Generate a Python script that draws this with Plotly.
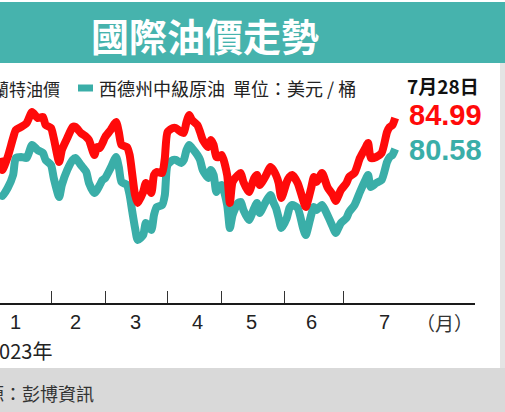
import plotly.graph_objects as go

# ---------------- data ----------------
dates = [
    "2023-01-05", "2023-01-06", "2023-01-10", "2023-01-12", "2023-01-13", "2023-01-17", "2023-01-19",
    "2023-01-23", "2023-01-25", "2023-01-27", "2023-01-30", "2023-02-01", "2023-02-02", "2023-02-06",
    "2023-02-07", "2023-02-09", "2023-02-13", "2023-02-14", "2023-02-16", "2023-02-20", "2023-02-21",
    "2023-02-23", "2023-02-24", "2023-02-27", "2023-02-28", "2023-03-01", "2023-03-03", "2023-03-07",
    "2023-03-08", "2023-03-09", "2023-03-13", "2023-03-14", "2023-03-15", "2023-03-16", "2023-03-17",
    "2023-03-21", "2023-03-22", "2023-03-24", "2023-03-27", "2023-03-28", "2023-03-30", "2023-03-31",
    "2023-04-03", "2023-04-05", "2023-04-06", "2023-04-10", "2023-04-11", "2023-04-12", "2023-04-13",
    "2023-04-14", "2023-04-18", "2023-04-19", "2023-04-20", "2023-04-24", "2023-04-25", "2023-04-26",
    "2023-04-27", "2023-04-28", "2023-05-01", "2023-05-03", "2023-05-04", "2023-05-05", "2023-05-09",
    "2023-05-10", "2023-05-11", "2023-05-15", "2023-05-17", "2023-05-18", "2023-05-19", "2023-05-23",
    "2023-05-25", "2023-05-26", "2023-05-29", "2023-05-30", "2023-05-31", "2023-06-02", "2023-06-05",
    "2023-06-06", "2023-06-08", "2023-06-12", "2023-06-13", "2023-06-15", "2023-06-16", "2023-06-19",
    "2023-06-21", "2023-06-23", "2023-06-27", "2023-06-28", "2023-06-30", "2023-07-04", "2023-07-05",
    "2023-07-07", "2023-07-11", "2023-07-13", "2023-07-14", "2023-07-17", "2023-07-19", "2023-07-21",
    "2023-07-25", "2023-07-26", "2023-07-27", "2023-07-28",
]

brent = [
    79.30, 77.59, 79.44, 82.14, 83.28, 83.71, 84.28,
    85.84, 84.99, 85.13, 83.99, 83.57, 82.14, 78.73,
    80.44, 82.14, 83.71, 83.71, 82.86, 82.29, 81.86,
    79.73, 80.86, 80.72, 81.43, 82.29, 83.28, 84.42,
    83.00, 81.15, 80.86, 79.73, 76.88, 74.04, 72.90,
    74.46, 75.74, 74.32, 76.88, 77.31, 77.17, 79.30,
    83.00, 83.57, 83.57, 83.00, 82.86, 84.42, 85.42,
    84.71, 83.99, 83.00, 81.86, 80.86, 81.86, 81.15,
    79.44, 79.44, 79.73, 76.88, 72.90, 75.89, 76.88,
    77.17, 75.89, 74.46, 76.45, 76.88, 75.46, 76.60,
    78.02, 77.59, 76.88, 75.74, 73.61, 75.89, 76.60,
    76.88, 75.74, 73.33, 72.33, 75.03, 76.60, 75.89,
    77.17, 75.17, 74.04, 73.18, 74.75, 75.74, 76.60,
    77.17, 79.30, 80.72, 81.43, 79.30, 79.44, 80.01,
    83.00, 83.71, 83.99, 84.99,
]

wti = [
    74.32, 73.89, 75.03, 76.88, 79.30, 79.44, 79.30,
    81.15, 80.44, 80.01, 79.02, 78.30, 76.45, 73.75,
    75.46, 77.59, 79.02, 79.30, 78.30, 77.31, 75.74,
    74.32, 74.75, 75.46, 76.17, 76.45, 77.88, 79.44,
    78.02, 75.89, 75.46, 74.04, 71.62, 69.34, 67.64,
    68.35, 70.05, 69.06, 71.19, 72.33, 72.61, 74.04,
    78.30, 79.02, 79.02, 78.59, 79.02, 80.44, 81.15,
    80.72, 79.73, 79.02, 77.59, 76.45, 77.59, 76.88,
    74.46, 75.17, 75.46, 72.61, 69.34, 71.19, 72.90,
    73.04, 71.90, 70.48, 72.19, 72.90, 71.48, 72.90,
    74.04, 73.04, 72.19, 70.76, 69.34, 70.76, 72.19,
    72.61, 72.19, 69.34, 68.35, 71.19, 72.33, 71.90,
    72.61, 71.19, 69.48, 68.63, 70.05, 70.76, 71.62,
    72.61, 74.46, 76.17, 76.88, 75.17, 75.74, 76.17,
    78.73, 79.44, 79.73, 80.58,
]

assert len(dates) == len(brent) == len(wti)

month_ticks = ["2023-02-01", "2023-03-01", "2023-04-03", "2023-05-01", "2023-06-01", "2023-07-03"]
month_label_dates = ["2023-01-13", "2023-02-14", "2023-03-16", "2023-04-18", "2023-05-16", "2023-06-15", "2023-07-24"]
month_labels = ["1", "2", "3", "4", "5", "6", "7"]

title_text = "國際油價走勢"
brent_name = "布蘭特油價"
wti_name = "西德州中級原油"
unit_text = "單位：美元 / 桶"
date_text = "7月28日"
year_text = "2023年"
month_unit = "（月）"
source_text = "資料來源：彭博資訊"

# ---------------- styles ----------------
W, H = 505, 412
RED = "#FF0A0A"
TEAL = "#3AAEA8"
BANNER = "#46B3AD"
CJK = "Noto Sans CJK TC, Liberation Sans, sans-serif"
NUM = "Liberation Sans, Arial, sans-serif"


def px(x):
    return x / W


def py(y):
    return 1 - y / H


fig = go.Figure()
fig.add_trace(go.Scatter(x=dates, y=wti, mode="lines", name=wti_name,
                         line=dict(color=TEAL, width=8, shape="spline", smoothing=0.6),
                         hoverinfo="skip"))
fig.add_trace(go.Scatter(x=dates, y=brent, mode="lines", name=brent_name,
                         line=dict(color=RED, width=8, shape="spline", smoothing=0.6),
                         hoverinfo="skip"))

shapes = [
    # title banner
    dict(type="rect", xref="paper", yref="paper", x0=0, x1=1, y0=py(63), y1=py(2),
         fillcolor=BANNER, line=dict(width=0), layer="below"),
    # bottom gray band
    dict(type="rect", xref="paper", yref="paper", x0=0, x1=1, y0=0, y1=py(368),
         fillcolor="#D9D9D9", line=dict(width=0), layer="below"),
    # right thin gray strip
    dict(type="rect", xref="paper", yref="paper", x0=px(500), x1=1, y0=py(368), y1=py(63),
         fillcolor="#E4E4E4", line=dict(width=0), layer="below"),
    # legend marker for WTI
    dict(type="line", xref="paper", yref="paper", x0=px(78), x1=px(93), y0=py(88), y1=py(88),
         line=dict(color=TEAL, width=7)),
]

annotations = [
    dict(text=f"<b>{title_text}</b>", x=px(205), y=py(35), xref="paper", yref="paper",
         showarrow=False, font=dict(family=CJK, size=38, color="white"),
         xanchor="center", yanchor="middle"),
    dict(text=brent_name, x=px(62), y=py(88), xref="paper", yref="paper", showarrow=False,
         font=dict(family=CJK, size=17, color="#222"), xanchor="right", yanchor="middle"),
    dict(text=f"{wti_name}  {unit_text}", x=px(97), y=py(88), xref="paper", yref="paper",
         showarrow=False, font=dict(family=CJK, size=18, color="#222"),
         xanchor="left", yanchor="middle"),
    dict(text=f"<b>{date_text}</b>", x=px(443), y=py(85), xref="paper", yref="paper",
         showarrow=False, font=dict(family=CJK, size=19, color="#111"),
         xanchor="center", yanchor="middle"),
    dict(text=f"<b>{brent[-1]:.2f}</b>", x=px(445), y=py(115), xref="paper", yref="paper",
         showarrow=False, font=dict(family=NUM, size=29, color=RED),
         xanchor="center", yanchor="middle"),
    dict(text=f"<b>{wti[-1]:.2f}</b>", x=px(445), y=py(150), xref="paper", yref="paper",
         showarrow=False, font=dict(family=NUM, size=29, color=TEAL),
         xanchor="center", yanchor="middle"),
    dict(text=month_unit, x=px(444), y=py(322), xref="paper", yref="paper", showarrow=False,
         font=dict(family=CJK, size=19, color="#333"), xanchor="center", yanchor="middle"),
    dict(text=year_text, x=px(54), y=py(350), xref="paper", yref="paper", showarrow=False,
         font=dict(family=CJK, size=20, color="#222"), xanchor="right", yanchor="middle"),
    dict(text=source_text, x=px(96), y=py(393), xref="paper", yref="paper", showarrow=False,
         font=dict(family=CJK, size=18, color="#333"), xanchor="right", yanchor="middle"),
]
for d, lab in zip(month_label_dates, month_labels):
    annotations.append(dict(text=lab, x=d, y=py(322), xref="x", yref="paper", showarrow=False,
                            font=dict(family=NUM, size=20, color="#222"),
                            xanchor="center", yanchor="middle"))

fig.update_layout(
    width=W, height=H,
    margin=dict(l=0, r=0, t=0, b=0),
    paper_bgcolor="white", plot_bgcolor="rgba(0,0,0,0)",
    showlegend=False,
    shapes=shapes, annotations=annotations,
    xaxis=dict(domain=[0, px(475)],
               range=["2023-01-05 04:00", "2023-09-07 11:00"],
               rangebreaks=[dict(bounds=["sat", "mon"])],
               showgrid=False, zeroline=False,
               showline=True, linecolor="#1a1a1a", linewidth=1.5,
               ticks="inside", ticklen=12, tickwidth=1, tickcolor="#333",
               tickvals=month_ticks, showticklabels=False, fixedrange=True),
    yaxis=dict(domain=[py(303), py(63)], range=[58.67, 92.81],
               visible=False, showgrid=False, zeroline=False, fixedrange=True),
)

fig.write_html("out.html")
